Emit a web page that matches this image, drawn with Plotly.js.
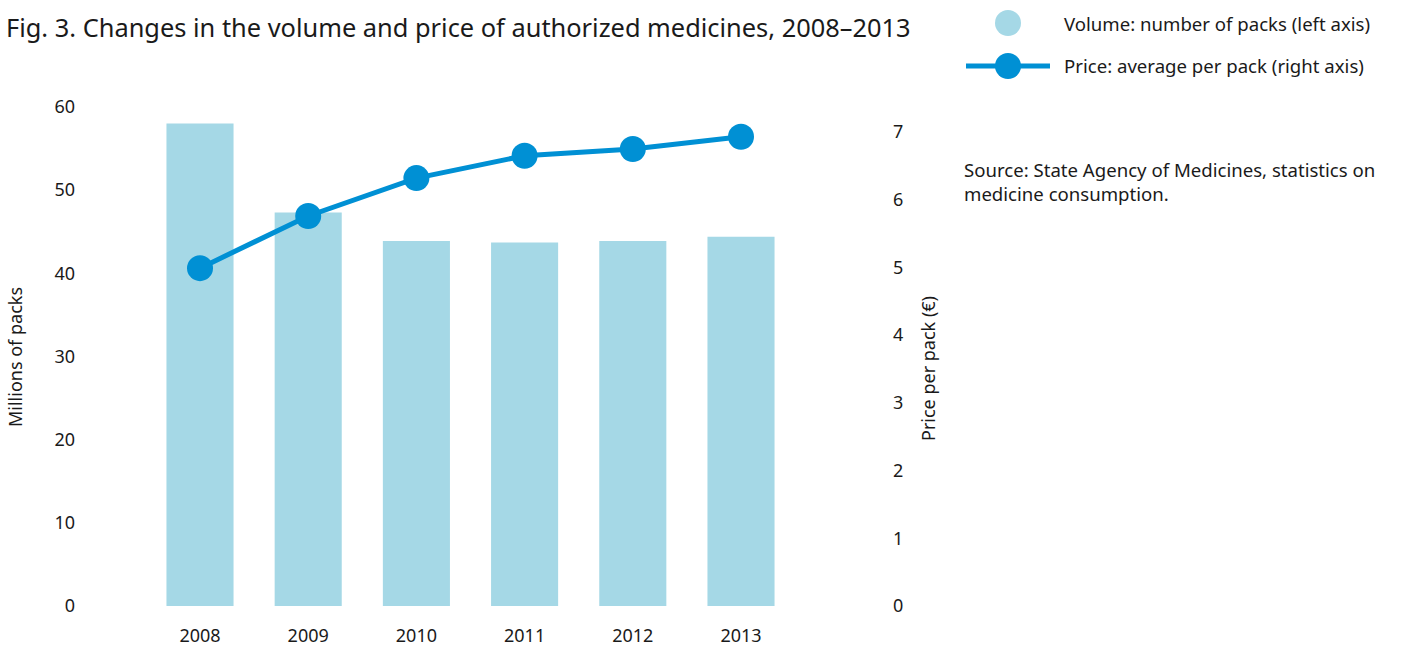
<!DOCTYPE html>
<html>
<head>
<meta charset="utf-8">
<script src="https://cdn.plot.ly/plotly-3.0.1.min.js"></script>
<style>html,body{margin:0;padding:0;background:#fff;}#chart{width:1406px;height:646px;}</style>
</head>
<body>
<div id="chart"></div>
<script>
const years = ['2008', '2009', '2010', '2011', '2012', '2013'];
const volumeMillions = [58.0, 47.3, 43.9, 43.7, 43.9, 44.4];
const pricePerPack = [4.99, 5.76, 6.32, 6.65, 6.75, 6.93];
const leftTicks = [0, 10, 20, 30, 40, 50, 60];
const rightTicks = [0, 1, 2, 3, 4, 5, 6, 7];

const W = 1406, H = 646;
const L = 76, R = 892, T = 100, B = 606;
const pw = R - L, ph = B - T;
const px = x => (x - L) / pw;
const py = y => (B - y) / ph;

const barColor = '#a5d8e6';
const lineColor = '#0090d4';
const font = 'Noto Sans, Open Sans, sans-serif';
const txt = '#1a1a1a';
const fs = 18;
const fsSide = 18.6;

const traces = [
  {
    type: 'bar', x: [0,1,2,3,4,5], y: volumeMillions, yaxis: 'y',
    marker: {color: barColor}, width: 0.62, showlegend: false, hoverinfo: 'x+y'
  },
  {
    type: 'scatter', mode: 'lines+markers', x: [0,1,2,3,4,5], y: pricePerPack, yaxis: 'y2',
    line: {color: lineColor, width: 5}, marker: {color: lineColor, size: 26},
    showlegend: false
  }
];

const r = 13;
const layout = {
  width: W, height: H,
  margin: {l: L, r: W - R, t: T, b: H - B, pad: 0},
  paper_bgcolor: '#fff', plot_bgcolor: '#fff',
  font: {family: font, size: fs, color: txt},
  showlegend: false,
  title: {text: 'Fig. 3. Changes in the volume and price of authorized medicines, 2008–2013',
    x: 6 / W, xanchor: 'left', xref: 'container', y: 1 - 28 / H, yanchor: 'middle', yref: 'container',
    font: {family: font, size: 25.4, color: txt}},
  xaxis: {
    range: [-(200 - L) / 108.2, 5 + (R - 741) / 108.2],
    tickmode: 'array', tickvals: [0,1,2,3,4,5], ticktext: years,
    showgrid: false, zeroline: false, showline: false, ticks: '',
    ticklabelstandoff: 17, tickfont: {size: fs, color: txt}, fixedrange: true
  },
  yaxis: {
    range: [0, ph / 8.317], tickmode: 'array', tickvals: leftTicks,
    showgrid: false, zeroline: false, showline: false, ticks: '',
    tickfont: {size: fs, color: txt}
  },
  yaxis2: {
    overlaying: 'y', side: 'right', range: [0, ph / 67.71], tickmode: 'array', tickvals: rightTicks,
    showgrid: false, zeroline: false, showline: false, ticks: '',
    tickfont: {size: fs, color: txt}
  },
  annotations: [
    {text: 'Millions of packs', xref: 'paper', yref: 'paper', x: px(15), y: py(357), textangle: -90,
     showarrow: false, xanchor: 'center', yanchor: 'middle', font: {size: fs, color: txt}},
    {text: 'Price per pack (€)', xref: 'paper', yref: 'paper', x: px(928), y: py(369), textangle: -90,
     showarrow: false, xanchor: 'center', yanchor: 'middle', font: {size: fs, color: txt}},
    {text: 'Volume: number of packs (left axis)', xref: 'paper', yref: 'paper', x: px(1062), y: py(23),
     showarrow: false, xanchor: 'left', yanchor: 'middle', font: {size: fsSide, color: txt}},
    {text: 'Price: average per pack (right axis)', xref: 'paper', yref: 'paper', x: px(1062), y: py(66),
     showarrow: false, xanchor: 'left', yanchor: 'middle', font: {size: fsSide, color: txt}},
    {text: 'Source: State Agency of Medicines, statistics on<br>medicine consumption.', xref: 'paper', yref: 'paper',
     x: px(962), y: py(155), showarrow: false, xanchor: 'left', yanchor: 'top', align: 'left',
     font: {size: fsSide, color: txt}}
  ],
  shapes: [
    {type: 'circle', xref: 'paper', yref: 'paper', x0: px(1008 - r), x1: px(1008 + r), y0: py(23 + r), y1: py(23 - r),
     fillcolor: barColor, line: {width: 0}},
    {type: 'line', xref: 'paper', yref: 'paper', x0: px(966), x1: px(1050), y0: py(66), y1: py(66),
     line: {color: lineColor, width: 5}},
    {type: 'circle', xref: 'paper', yref: 'paper', x0: px(1008 - r), x1: px(1008 + r), y0: py(66 + r), y1: py(66 - r),
     fillcolor: lineColor, line: {width: 0}}
  ]
};

Plotly.newPlot('chart', traces, layout, {displayModeBar: false, staticPlot: true});
</script>
</body>
</html>
